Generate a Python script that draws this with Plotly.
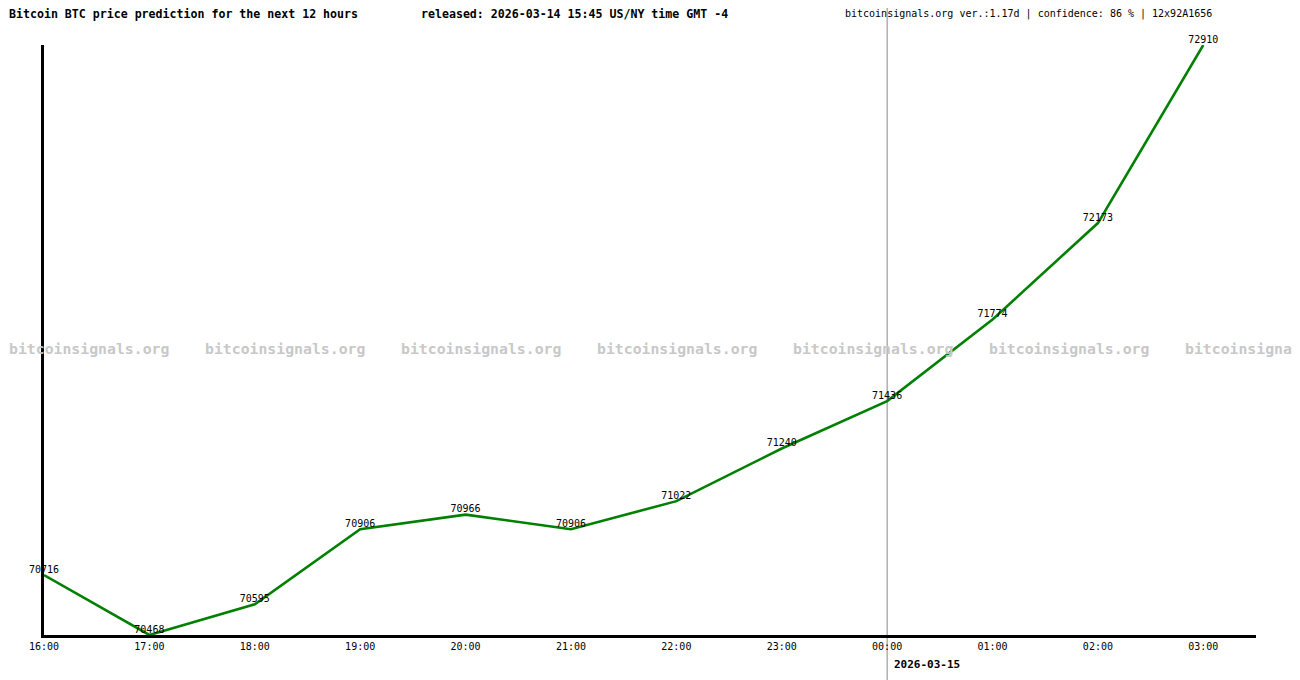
import plotly.graph_objects as go

# hourly forecast, released 2026-03-14 15:45 (US/NY)
hours = ["16:00", "17:00", "18:00", "19:00", "20:00", "21:00",
         "22:00", "23:00", "00:00", "01:00", "02:00", "03:00"]
prices = [70716, 70468, 70595, 70906, 70966, 70906,
          71022, 71240, 71436, 71774, 72173, 72910]

TITLE = "Bitcoin BTC price prediction for the next 12 hours"
RELEASED = "released: 2026-03-14 15:45 US/NY time GMT -4"
INFO = "bitcoinsignals.org ver.:1.17d | confidence: 86 % | 12x92A1656"
NEXT_DAY = "2026-03-15"
WATERMARK = "bitcoinsignals.org"

W, H = 1300, 680
OFF = 8  # default body margin of the html page
L, R, T, B = 44 - OFF, 44 + OFF, 45 - OFF, 45 + OFF
MONO = "DejaVu Sans Mono, monospace"


def px(x):
    """screen pixel x -> paper fraction"""
    return (x - OFF - L) / (W - L - R)


def py(y):
    """screen pixel y -> paper fraction"""
    return (H - B - (y - OFF)) / (H - T - B)


fig = go.Figure()
fig.add_trace(go.Scatter(
    x=hours, y=prices, mode="lines+text",
    line=dict(color="#008000", width=2.6),
    text=[str(p) for p in prices], textposition="top center",
    textfont=dict(family=MONO, size=10, color="black"),
    cliponaxis=False, hoverinfo="x+y", showlegend=False))

annotations = [
    dict(text=f"<b>{TITLE}</b>", x=px(7), y=py(14), xanchor="left"),
    dict(text=f"<b>{RELEASED}</b>", x=px(419), y=py(14), xanchor="left"),
    dict(text=INFO, x=px(843), y=py(14), xanchor="left", font=dict(size=10)),
    dict(text=f"<b>{NEXT_DAY}</b>", x=hours.index("00:00"), xref="x", xshift=5,
         y=py(664), xanchor="left", font=dict(size=11)),
]
for k in range(7):
    annotations.append(dict(text=f"<b>{WATERMARK}</b>", x=px(7 + 196 * k), y=py(348),
                            xanchor="left", font=dict(size=14.8, color="#c8c8c8")))
for a in annotations:
    a.setdefault("xref", "paper")
    a.update(yref="paper", yanchor="middle", showarrow=False)
    a.setdefault("font", {})
    a["font"] = dict(dict(family=MONO, size=11.6, color="black"), **a["font"])

fig.update_layout(
    width=W, height=H,
    margin=dict(l=L, r=R, t=T, b=B),
    paper_bgcolor="white", plot_bgcolor="white",
    font=dict(family=MONO, size=10, color="black"),
    xaxis=dict(type="category", categoryorder="array", categoryarray=hours,
               range=[0, len(hours) - 0.5], showgrid=False, zeroline=False,
               showline=True, linecolor="black", linewidth=3, ticks="",
               tickfont=dict(family=MONO, size=10)),
    yaxis=dict(range=[min(prices), max(prices)], showgrid=False, zeroline=False,
               showline=True, linecolor="black", linewidth=3, showticklabels=False,
               ticks=""),
    shapes=[dict(type="line", xref="x", yref="paper",
                 x0=hours.index("00:00"), x1=hours.index("00:00"), y0=-0.1, y1=1.1,
                 line=dict(color="#888888", width=1), layer="below")],
    annotations=annotations,
)

fig.write_html("out.html")
